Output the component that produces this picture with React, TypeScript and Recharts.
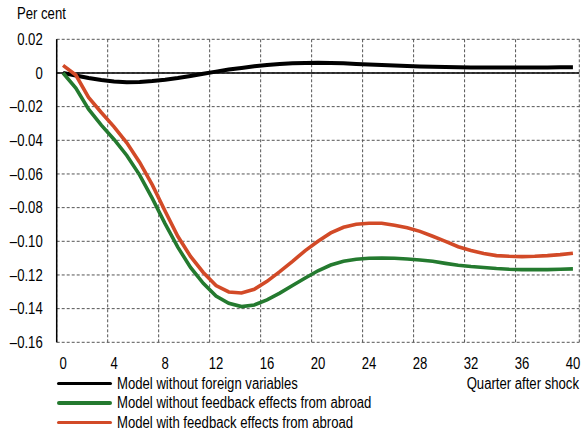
import React from 'react';
import { LineChart, Line, XAxis, YAxis, CartesianGrid, ReferenceLine } from 'recharts';

const quarters = [0, 1, 2, 3, 4, 5, 6, 7, 8, 9, 10, 11, 12, 13, 14, 15, 16, 17, 18, 19, 20, 21, 22, 23, 24, 25, 26, 27, 28, 29, 30, 31, 32, 33, 34, 35, 36, 37, 38, 39, 40];

const noForeign = [0, -0.0015, -0.003, -0.0042, -0.005, -0.0055, -0.0053, -0.0048, -0.004, -0.003, -0.0018, -0.0005, 0.0008, 0.002, 0.003, 0.004, 0.0047, 0.0053, 0.0057, 0.0059, 0.006, 0.0059, 0.0057, 0.0054, 0.0051, 0.0048, 0.0045, 0.0042, 0.0039, 0.0037, 0.0035, 0.0034, 0.0033, 0.0032, 0.0032, 0.0032, 0.0032, 0.0033, 0.0033, 0.0034, 0.0034];

const noFeedback = [0, -0.009, -0.0215, -0.031, -0.0395, -0.049, -0.0605, -0.0745, -0.0895, -0.1035, -0.1155, -0.125, -0.1325, -0.1368, -0.1388, -0.1378, -0.1348, -0.1308, -0.1263, -0.1218, -0.1175, -0.1141, -0.1119, -0.1107, -0.1101, -0.1099, -0.1101, -0.1105, -0.1111, -0.1119, -0.1131, -0.1142, -0.115, -0.1156, -0.1162, -0.1166, -0.1168, -0.1168, -0.1168, -0.1166, -0.1164];

const withFeedback = [0.0045, -0.0012, -0.0145, -0.0235, -0.032, -0.0415, -0.053, -0.0665, -0.082, -0.097, -0.109, -0.1185, -0.1263, -0.1301, -0.1307, -0.1285, -0.1238, -0.118, -0.1119, -0.1055, -0.1, -0.095, -0.0917, -0.0899, -0.0893, -0.0893, -0.0905, -0.0919, -0.0941, -0.097, -0.1, -0.1032, -0.1055, -0.1073, -0.1085, -0.1089, -0.1091, -0.1089, -0.1085, -0.1079, -0.1071];

const xTicks = [0, 4, 8, 12, 16, 20, 24, 28, 32, 36, 40];
const xGridLines = [3.5, 7.5, 11.5, 15.5, 19.5, 23.5, 27.5, 31.5, 35.5, 39.5, 40.5];
const yTicks = [0.02, 0, -0.02, -0.04, -0.06, -0.08, -0.1, -0.12, -0.14, -0.16];

const seriesNames = [
  'Model without foreign variables',
  'Model without feedback effects from abroad',
  'Model with feedback effects from abroad',
];
const seriesColors = ['#000000', '#247a2f', '#d24a27'];
const seriesWidths = [4, 3.6, 3.6];
const seriesKeys = ['noForeign', 'noFeedback', 'withFeedback'];

const data = quarters.map((q, i) => ({
  q,
  noForeign: noForeign[i],
  noFeedback: noFeedback[i],
  withFeedback: withFeedback[i],
}));

const FONT = '"Liberation Sans", Arial, sans-serif';
const SQUEEZE = 0.82;

const fmtY = (v: number) => {
  if (Math.abs(v) < 1e-9) return '0';
  const s = Math.abs(v).toFixed(2);
  return v < 0 ? '\u2013' + s : s;
};

const XTick = (props: any) => {
  const { x, y, payload } = props;
  return (
    <text transform={`translate(${x},${y}) scale(${SQUEEZE},1)`} textAnchor="middle" dy="0.71em" fontSize={16} fontFamily={FONT} fill="#000">
      {String(payload.value)}
    </text>
  );
};

const YTick = (props: any) => {
  const { x, y, payload } = props;
  return (
    <text transform={`translate(${x},${y}) scale(${SQUEEZE},1)`} textAnchor="end" dy="0.355em" fontSize={16} fontFamily={FONT} fill="#000">
      {fmtY(payload.value)}
    </text>
  );
};

const narrow = (origin: string): React.CSSProperties => ({
  display: 'inline-block',
  transform: `scaleX(${SQUEEZE})`,
  transformOrigin: origin,
  whiteSpace: 'nowrap',
  fontSize: 16,
  lineHeight: '18px',
});

export default function App() {
  return (
    <div style={{ position: 'absolute', left: 0, top: 0, width: 585, height: 434, background: '#fff', fontFamily: FONT, color: '#000' }}>
      <div style={{ position: 'absolute', left: 17, top: 5 }}>
        <span style={narrow('left center')}>Per cent</span>
      </div>
      <LineChart width={585} height={434} data={data} margin={{ top: 39.3, right: 5.7, left: 0, bottom: 61.7 }}>
        <CartesianGrid xAxisId="grid" stroke="#555" strokeDasharray="3 2" strokeWidth={1} />
        <XAxis xAxisId="grid" dataKey="q" type="number" domain={[-0.5, 40.5]} ticks={xGridLines} hide allowDataOverflow />
        <XAxis
          dataKey="q"
          type="number"
          domain={[-0.5, 40.5]}
          ticks={xTicks}
          allowDataOverflow
          axisLine={false}
          tickLine={false}
          tickSize={0}
          tickMargin={15}
          height={30}
          interval={0}
          tick={XTick}
        />
        <YAxis
          type="number"
          domain={[-0.16, 0.02]}
          ticks={yTicks}
          allowDataOverflow
          interval={0}
          width={56.7}
          axisLine={{ stroke: '#000', strokeWidth: 1.5 }}
          tickLine={false}
          tickSize={0}
          tickMargin={14}
          tick={YTick}
        />
        <ReferenceLine y={0} stroke="#000" strokeWidth={1.5} />
        {seriesKeys.map((k, i) => (
          <Line
            key={k}
            type="linear"
            dataKey={k}
            stroke={seriesColors[i]}
            strokeWidth={seriesWidths[i]}
            dot={false}
            isAnimationActive={false}
          />
        ))}
      </LineChart>
      <div style={{ position: 'absolute', right: 6, top: 375, textAlign: 'right' }}>
        <span style={narrow('right center')}>Quarter after shock</span>
      </div>
      {seriesNames.map((name, i) => (
        <div key={name} style={{ position: 'absolute', left: 57, top: 374.5 + i * 19.5, height: 18, display: 'flex', alignItems: 'center', whiteSpace: 'nowrap' }}>
          <div style={{ width: 55, height: 3.5, background: seriesColors[i], borderRadius: 2, marginRight: 5, flex: 'none' }} />
          <span style={narrow('left center')}>{name}</span>
        </div>
      ))}
    </div>
  );
}
